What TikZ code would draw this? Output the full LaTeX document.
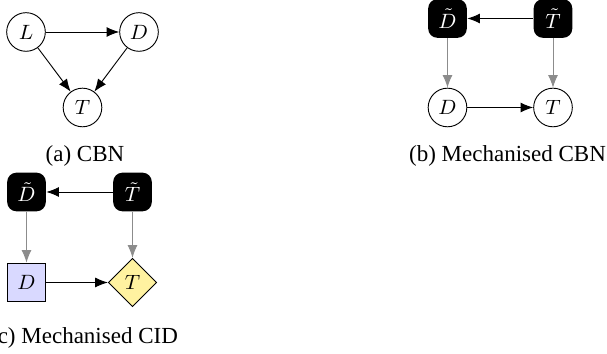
\documentclass[tikz,border=0pt]{standalone}
\usepackage{fontspec}
\setmainfont{Liberation Serif}
\usetikzlibrary{arrows.meta,shapes.geometric}
\definecolor{decfill}{RGB}{217,217,255}
\definecolor{utilfill}{RGB}{255,242,160}
\definecolor{mecharrow}{RGB}{140,140,140}
\tikzset{
  nodefont/.style={font=\fontsize{9.5}{11}\selectfont},
  chance/.style={circle,draw,line width=0.4pt,minimum size=16.8pt,inner sep=0pt,nodefont},
  mech/.style={rectangle,rounded corners=4pt,fill=black,text=white,minimum size=16.8pt,inner sep=0pt,nodefont},
  decision/.style={rectangle,draw,fill=decfill,line width=0.4pt,minimum size=16.8pt,inner sep=0pt,nodefont},
  utility/.style={diamond,aspect=1,draw,fill=utilfill,line width=0.4pt,minimum size=21pt,inner sep=0pt,nodefont},
  edge/.style={-{Latex[length=5.5pt,width=4.3pt]},line width=0.4pt},
  mechedge/.style={edge,draw=mecharrow,color=mecharrow},
  caption/.style={anchor=base,inner sep=0pt,font=\fontsize{10}{12}\selectfont}
}
\begin{document}
\begin{tikzpicture}[x=0.4348pt,y=-0.4348pt]
\useasboundingbox (0,0) rectangle (607,354);

% (a) CBN
\node[chance] (aL) at (26,32) {$L$};
\node[chance] (aD) at (139,32) {$D$};
\node[chance] (aT) at (82.5,107.5) {$T$};
\draw[edge] (aL) -- (aD);
\draw[edge] (aL) -- (aT);
\draw[edge] (aD) -- (aT);
\node[caption] (capa) at (85,162) {(a) CBN};

% (b) Mechanised CBN
\node[mech] (bDt) at (447.5,18.5) {$\tilde{D}$};
\node[mech] (bTt) at (553,18.5) {$\tilde{T}$};
\node[chance] (bD) at (447.5,107.5) {$D$};
\node[chance] (bT) at (553,107.5) {$T$};
\draw[edge] (bTt) -- (bDt);
\draw[mechedge] (bDt) -- (bD);
\draw[mechedge] (bTt) -- (bT);
\draw[edge] (bD) -- (bT);
\node[caption] (capb) at (507.5,162) {(b) Mechanised CBN};

% (c) Mechanised CID
\node[mech] (cDt) at (26.5,192) {$\tilde{D}$};
\node[mech] (cTt) at (132.5,192) {$\tilde{T}$};
\node[decision] (cD) at (26.5,282.5) {$D$};
\node[utility] (cT) at (132.5,282.5) {$T$};
\draw[edge] (cTt) -- (cDt);
\draw[mechedge] (cDt) -- (cD);
\draw[mechedge] (cTt) -- (cT);
\draw[edge] (cD) -- (cT);
\node[caption] (capc) at (84,344) {(c) Mechanised CID};
\end{tikzpicture}
\end{document}
